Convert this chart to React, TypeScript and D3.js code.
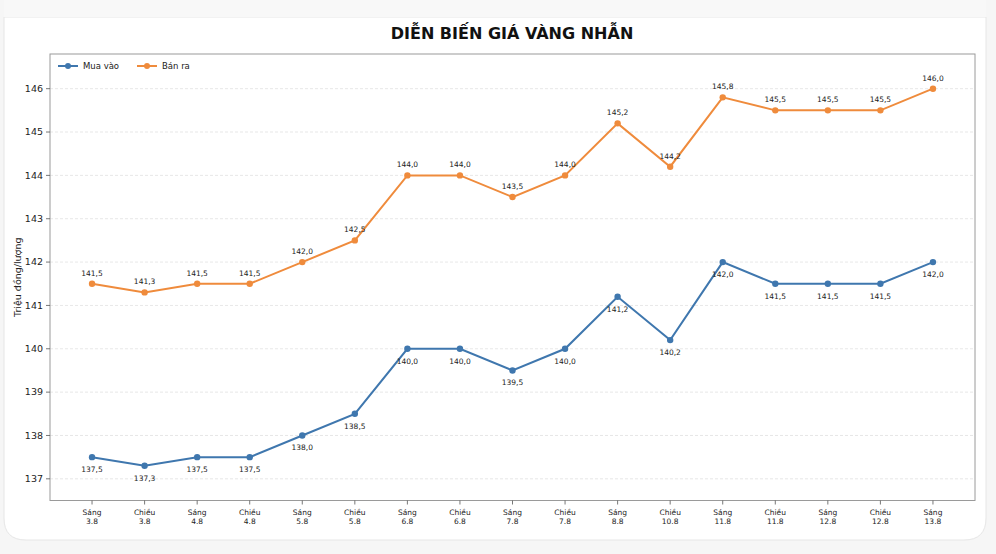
import React from "react";
import * as d3 from "d3";

const categories: string[] = [
  "Sáng|3.8", "Chiều|3.8", "Sáng|4.8", "Chiều|4.8", "Sáng|5.8", "Chiều|5.8",
  "Sáng|6.8", "Chiều|6.8", "Sáng|7.8", "Chiều|7.8", "Sáng|8.8", "Chiều|10.8",
  "Sáng|11.8", "Chiều|11.8", "Sáng|12.8", "Chiều|12.8", "Sáng|13.8",
];
const buyValues: number[] = [137.5, 137.3, 137.5, 137.5, 138.0, 138.5, 140.0, 140.0, 139.5, 140.0, 141.2, 140.2, 142.0, 141.5, 141.5, 141.5, 142.0];
const sellValues: number[] = [141.5, 141.3, 141.5, 141.5, 142.0, 142.5, 144.0, 144.0, 143.5, 144.0, 145.2, 144.2, 145.8, 145.5, 145.5, 145.5, 146.0];
const yTicks: number[] = [137, 138, 139, 140, 141, 142, 143, 144, 145, 146];
const seriesNames: string[] = ["Mua vào", "Bán ra"];
const title = "DIỄN BIẾN GIÁ VÀNG NHẪN";
const yLabel = "Triệu đồng/lượng";

const W = 996;
const H = 554;
const plot = { left: 50, right: 975, top: 54, bottom: 500.5 };
const BLUE = "#3f77ae";
const ORANGE = "#ef8b3c";
const FONT = "'DejaVu Sans', sans-serif";

export default function App() {
  const x = d3.scaleLinear().domain([-0.8, 16.8]).range([plot.left, plot.right]);
  const y = d3.scaleLinear().domain([136.5, 146.8]).range([plot.bottom, plot.top]);
  const line = d3
    .line<number>()
    .x((_, i) => x(i))
    .y((d) => y(d));
  const fmt = (v: number) => v.toFixed(1).replace(".", ",");

  const series = [
    { name: seriesNames[0], values: buyValues, color: BLUE, dy: 15 },
    { name: seriesNames[1], values: sellValues, color: ORANGE, dy: -8 },
  ];

  return (
    <div style={{ position: "fixed", left: 0, top: 0, width: W, height: H }}>
      <svg width={W} height={H} style={{ display: "block" }} fontFamily={FONT}>
        <rect x={0} y={0} width={W} height={H} fill="#f6f6f6" />
        <path
          d={`M4,17 H986 V518 Q986,540 964,540 H26 Q4,540 4,518 Z`}
          fill="#ffffff"
          stroke="#e6e6e6"
          strokeWidth={1}
        />
        <rect x={4} y={0} width={982} height={17} fill="#f8f8f8" />
        <text x={512} y={39} textAnchor="middle" fontSize={16} fontWeight="bold" fill="#111">
          {title}
        </text>

        {/* grid */}
        {yTicks.map((t) => (
          <line
            key={"g" + t}
            x1={plot.left}
            x2={plot.right}
            y1={y(t)}
            y2={y(t)}
            stroke="#dcdcdc"
            strokeWidth={0.7}
            strokeDasharray="3,2"
          />
        ))}

        {/* frame */}
        <rect
          x={plot.left}
          y={plot.top}
          width={plot.right - plot.left}
          height={plot.bottom - plot.top}
          fill="none"
          stroke="#9a9a9a"
          strokeWidth={1}
        />

        {/* y ticks */}
        {yTicks.map((t) => (
          <g key={"yt" + t}>
            <line x1={plot.left - 4} x2={plot.left} y1={y(t)} y2={y(t)} stroke="#555" strokeWidth={0.8} />
            <text x={plot.left - 7} y={y(t)} dy="0.35em" textAnchor="end" fontSize={9.5} fill="#222">
              {t}
            </text>
          </g>
        ))}

        {/* x ticks */}
        {categories.map((c, i) => {
          const [a, b] = c.split("|");
          return (
            <g key={"xt" + i}>
              <line x1={x(i)} x2={x(i)} y1={plot.bottom} y2={plot.bottom + 4} stroke="#555" strokeWidth={0.8} />
              <text x={x(i)} y={plot.bottom + 14} textAnchor="middle" fontSize={7.5} fill="#222">
                {a}
              </text>
              <text x={x(i)} y={plot.bottom + 23} textAnchor="middle" fontSize={7.5} fill="#222">
                {b}
              </text>
            </g>
          );
        })}

        <text
          transform={`translate(21,${(plot.top + plot.bottom) / 2}) rotate(-90)`}
          textAnchor="middle"
          fontSize={9.5}
          fill="#222"
        >
          {yLabel}
        </text>

        {/* series */}
        {series.map((s) => (
          <g key={s.name}>
            <path d={line(s.values) || ""} fill="none" stroke={s.color} strokeWidth={2} />
            {s.values.map((v, i) => (
              <circle key={i} cx={x(i)} cy={y(v)} r={3.2} fill={s.color} />
            ))}
            {s.values.map((v, i) => (
              <text
                key={"l" + i}
                x={x(i)}
                y={y(v) + s.dy}
                textAnchor="middle"
                fontSize={7.5}
                fill="#222"
              >
                {fmt(v)}
              </text>
            ))}
          </g>
        ))}

        {/* legend */}
        {series.map((s, k) => {
          const lx = k === 0 ? 58 : 137;
          const ly = 66;
          return (
            <g key={"lg" + s.name}>
              <line x1={lx} x2={lx + 20} y1={ly} y2={ly} stroke={s.color} strokeWidth={2} />
              <circle cx={lx + 10} cy={ly} r={3} fill={s.color} />
              <text x={lx + 25} y={ly} dy="0.35em" fontSize={8.5} fill="#222">
                {s.name}
              </text>
            </g>
          );
        })}
      </svg>
    </div>
  );
}
